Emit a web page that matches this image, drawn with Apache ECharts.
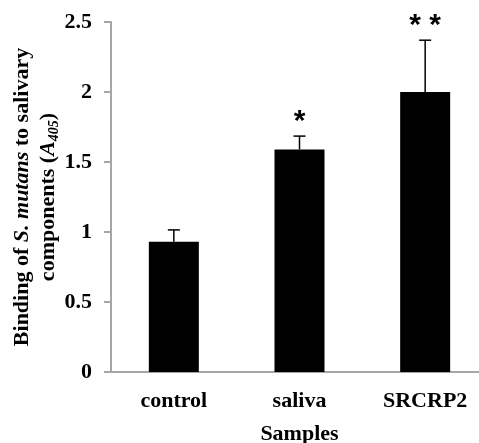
<!DOCTYPE html>
<html>
<head>
<meta charset="utf-8">
<script src="https://cdn.jsdelivr.net/npm/echarts@6/dist/echarts.min.js"></script>
<style>
html,body{margin:0;padding:0;background:#fff;}
#chart{width:479px;height:443px;}
</style>
</head>
<body>
<div id="chart"></div>
<script>
const categories = ['control', 'saliva', 'SRCRP2'];
const means = [0.93, 1.59, 2.0];
const errors = [0.085, 0.095, 0.37];
const marks = ['', '*', '* *'];
const yTicks = { min: 0, max: 2.5, interval: 0.5 };

const SERIF = '"Liberation Serif","Times New Roman",serif';
const chart = echarts.init(document.getElementById('chart'), null, { renderer: 'canvas' });

const errData = categories.map((c, i) => [i, means[i], means[i] + errors[i]]);

chart.setOption({
  animation: false,
  backgroundColor: '#ffffff',
  grid: { left: 111, top: 22, width: 377, height: 350, containLabel: false, outerBoundsMode: 'none' },
  xAxis: {
    type: 'category',
    data: categories,
    axisLine: { show: true, lineStyle: { color: '#a6a6a6', width: 2 } },
    axisTick: { show: false },
    axisLabel: { fontFamily: SERIF, fontWeight: 'bold', fontSize: 22, color: '#000', margin: 18 },
    name: 'Samples',
    nameLocation: 'middle',
    nameGap: 51,
    nameMoveOverlap: false,
    nameTextStyle: { fontFamily: SERIF, fontWeight: 'bold', fontSize: 22, color: '#000' }
  },
  yAxis: {
    type: 'value',
    min: yTicks.min, max: yTicks.max, interval: yTicks.interval,
    axisLine: { show: true, lineStyle: { color: '#a6a6a6', width: 2 } },
    axisTick: { show: true, length: 7, lineStyle: { color: '#a6a6a6', width: 2 } },
    splitLine: { show: false },
    axisLabel: { fontFamily: SERIF, fontWeight: 'bold', fontSize: 22, color: '#000', margin: 19 },
    name: '{b|Binding of }{i|S. mutans}{b| to salivary}\n{b|components (}{i|A}{s|405}{b|)}',
    nameLocation: 'middle',
    nameRotate: 90,
    nameGap: 50,
    nameMoveOverlap: false,
    nameTextStyle: {
      align: 'center',
      lineHeight: 26,
      rich: {
        b: { fontFamily: SERIF, fontWeight: 'bold', fontSize: 22, color: '#000', lineHeight: 26 },
        i: { fontFamily: SERIF, fontWeight: 'bold', fontStyle: 'italic', fontSize: 22, color: '#000', lineHeight: 26 },
        s: { fontFamily: SERIF, fontWeight: 'bold', fontStyle: 'italic', fontSize: 14, color: '#000', lineHeight: 26, verticalAlign: 'bottom' }
      }
    }
  },
  series: [
    {
      type: 'bar',
      data: means,
      barWidth: 50,
      itemStyle: { color: '#000000' },
      z: 2
    },
    {
      type: 'custom',
      data: errData,
      z: 3,
      renderItem: function (params, api) {
        const i = api.value(0);
        const top = api.coord([i, api.value(1)]);
        const hi = api.coord([i, api.value(2)]);
        const mark = marks[params.dataIndex];
        const half = 6;
        const children = [
          { type: 'line', shape: { x1: top[0], y1: top[1], x2: hi[0], y2: hi[1] }, style: { stroke: '#000', lineWidth: 1.5 } },
          { type: 'line', shape: { x1: hi[0] - half, y1: hi[1], x2: hi[0] + half, y2: hi[1] }, style: { stroke: '#000', lineWidth: 1.5 } }
        ];
        if (mark) {
          children.push({
            type: 'text',
            style: {
              x: hi[0], y: hi[1] - 14,
              text: mark,
              align: 'center', verticalAlign: 'middle',
              font: 'bold 30px "Liberation Sans", Arial, sans-serif',
              fill: '#000'
            }
          });
        }
        return { type: 'group', children: children };
      }
    }
  ]
});
</script>
</body>
</html>
